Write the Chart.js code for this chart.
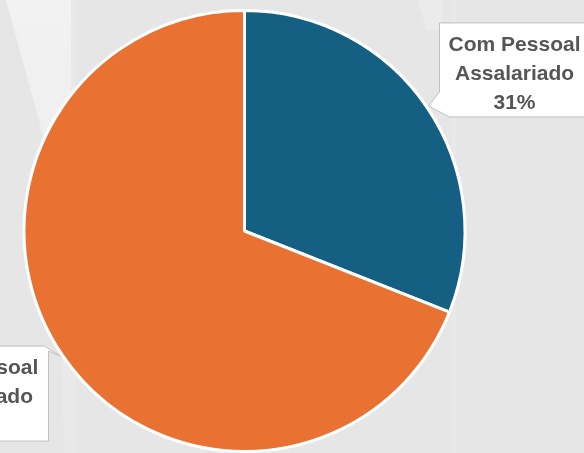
<!DOCTYPE html>
<html>
<head>
<meta charset="utf-8">
<script src="https://cdn.jsdelivr.net/npm/chart.js@4.4.1/dist/chart.umd.min.js"></script>
<style>
  html, body { margin: 0; padding: 0; }
  body {
    width: 584px; height: 453px; overflow: hidden;
    background: #e6e6e6;
  }
  #wrap { position: relative; width: 584px; height: 453px; }
  /* faint lighter streaks in the backdrop */
  .wedge {
    position: absolute; left: 0; top: 0; width: 80px; height: 453px;
    background: linear-gradient(#f2f2f2, #ececec 60%, #e8e8e8);
    clip-path: polygon(6px 0, 72px 0, 72px 453px, 64px 453px, 58px 190px);
  }
  .strip {
    position: absolute; top: 0; width: 4px; height: 453px;
    background: #e9e9e9;
  }
  .wedge2 {
    position: absolute; left: 417px; top: 0; width: 25px; height: 30px;
    background: #ebebeb;
    clip-path: polygon(0 0, 25px 0, 25px 30px, 10px 30px);
  }
  canvas { position: absolute; left: 0; top: 0; }
</style>
</head>
<body>
<div id="wrap">
  <div class="wedge"></div>
  <div class="strip" style="left:71px"></div>
  <div class="strip" style="left:452px"></div>
  <div class="wedge2"></div>
  <canvas id="pieChart" width="584" height="453"></canvas>
</div>
<script>
// Dados
const categories = ["Com Pessoal Assalariado", "Sem Pessoal Assalariado"];
const shares = [31, 69];
const sliceColors = ["#156082", "#E97132"];

// label lines for each slice
const labelLines = [
  ["Com Pessoal", "Assalariado", "31%"],
  ["Sem Pessoal", "Assalariado", "69%"]
];

// callout boxes: offset of the box from the pointer tip
const callouts = [
  { dx: 11, dy: -83, w: 150, h: 94, side: "left" },
  { dx: -162, dy: -10, w: 150, h: 95, side: "right" }
];

const calloutPlugin = {
  id: "callouts",
  afterDatasetsDraw(chart) {
    const ctx = chart.ctx;
    const meta = chart.getDatasetMeta(0);
    meta.data.forEach((arc, i) => {
      const mid = (arc.startAngle + arc.endAngle) / 2;
      const r = arc.outerRadius + 2;
      const tx = arc.x + Math.cos(mid) * r;
      const ty = arc.y + Math.sin(mid) * r;
      const c = callouts[i];
      const bx = tx + c.dx, by = ty + c.dy;

      ctx.save();
      ctx.beginPath();
      if (c.side === "left") {
        ctx.moveTo(bx, by);
        ctx.lineTo(bx + c.w, by);
        ctx.lineTo(bx + c.w, by + c.h);
        ctx.lineTo(bx + 10, by + c.h);
        ctx.lineTo(tx, ty);
        ctx.lineTo(bx, by + c.h - 25);
        ctx.closePath();
      } else {
        ctx.moveTo(bx, by);
        ctx.lineTo(bx + c.w - 4, by);
        ctx.lineTo(tx, ty);
        ctx.lineTo(bx + c.w, by + 5);
        ctx.lineTo(bx + c.w, by + c.h);
        ctx.lineTo(bx, by + c.h);
        ctx.closePath();
      }
      ctx.fillStyle = "#ffffff";
      ctx.fill();
      ctx.strokeStyle = "#bfbfbf";
      ctx.lineWidth = 1;
      ctx.stroke();

      ctx.fillStyle = "#555555";
      ctx.font = "bold 21px 'Liberation Sans Narrow', 'Arial Narrow', 'Liberation Sans', sans-serif";
      ctx.textAlign = "center";
      ctx.textBaseline = "alphabetic";
      const cx = bx + c.w / 2;
      labelLines[i].forEach((line, k) => {
        ctx.fillText(line, cx, by + 28 + k * 29);
      });
      ctx.restore();
    });
  }
};

new Chart(document.getElementById("pieChart"), {
  type: "pie",
  data: {
    labels: categories,
    datasets: [{
      data: shares,
      backgroundColor: sliceColors,
      borderColor: "#ffffff",
      borderWidth: 3
    }]
  },
  options: {
    responsive: false,
    animation: false,
    layout: { padding: { left: 22, right: 117, top: 9, bottom: 0 } },
    plugins: {
      legend: { display: false },
      tooltip: { enabled: false }
    }
  },
  plugins: [calloutPlugin]
});
</script>
</body>
</html>
